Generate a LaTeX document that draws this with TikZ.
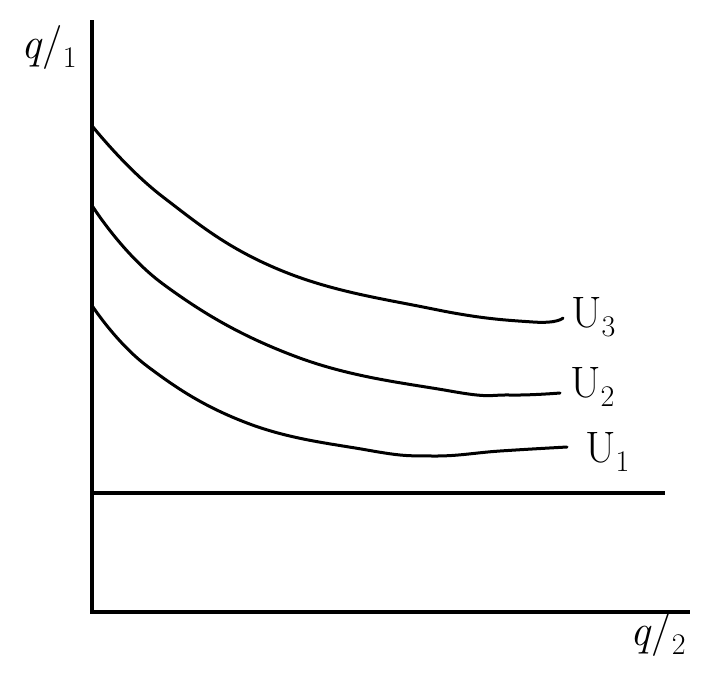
\documentclass[tikz,border=0pt]{standalone}
\usepackage{fontspec}
\usetikzlibrary{calc}

\newcommand{\lowidx}[1]{\raisebox{-9pt}{\fontsize{30}{30}\selectfont #1}}

\tikzset{
  axisline/.style={line width=4pt},
  curveline/.style={line width=3pt, line cap=round, line join=round},
  curvelabel/.style={font=\fontsize{44}{48}\selectfont, anchor=base west, inner sep=0pt}
}

\begin{document}
\begin{tikzpicture}[x=1pt, y=-1pt]
                \useasboundingbox (0, 0) rectangle (704, 681);
                \draw[axisline] (92, 20) -- (92, 614);
                \draw[axisline] (90, 612) -- (690, 612);
                \draw[line width=3.2pt] (92, 493) -- (665, 493);
                \draw[curveline] plot[smooth, tension=0.7] coordinates {(93, 127) (163, 197) (280, 270) (433, 309) (533, 322) (563, 318)};
                \draw[curveline] plot[smooth, tension=0.7] coordinates {(93, 207) (163, 284) (297, 357) (450, 391) (510, 395) (560, 393)};
                \draw[curveline] plot[smooth, tension=0.7] coordinates {(93, 307) (147, 366) (247, 423) (367, 450) (433, 456) (500, 451) (567, 447)};
                \node[curvelabel] (u3) at (571, 327) {U\lowidx{3}};
                \node[curvelabel] (u2) at (570, 397) {U\lowidx{2}};
                \node[curvelabel] (u1) at (585, 462) {U\lowidx{1}};
                \node[curvelabel] (q1) at (21, 58) {\textit{q}/\lowidx{1}};
                \node[curvelabel] (q2) at (630, 645) {\textit{q}/\lowidx{2}};
            \end{tikzpicture}
\end{document}
